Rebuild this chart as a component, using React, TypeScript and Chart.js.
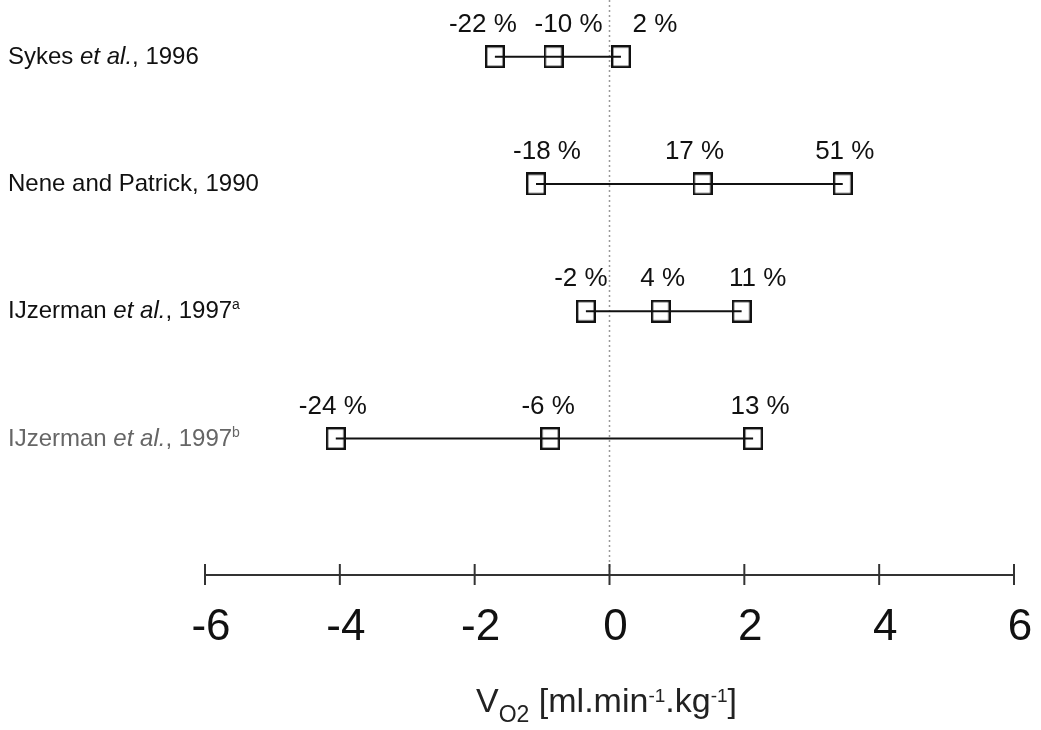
import React, { useEffect, useRef } from 'react';
import { Chart, registerables } from 'chart.js';

Chart.register(...registerables);

// ---- data ----
const studies = ['Sykes et al., 1996', 'Nene and Patrick, 1990', 'IJzerman et al., 1997', 'IJzerman et al., 1997'];
const studySuperscripts = ['', '', 'a', 'b'];
const rowPositions = [3, 2, 1, 0];

const sykesValues = [-1.70, -0.83, 0.17];
const sykesLabels = ['-22 %', '-10 %', '2 %'];
const neneValues = [-1.09, 1.38, 3.46];
const neneLabels = ['-18 %', '17 %', '51 %'];
const ijzermanAValues = [-0.35, 0.76, 1.96];
const ijzermanALabels = ['-2 %', '4 %', '11 %'];
const ijzermanBValues = [-4.06, -0.88, 2.13];
const ijzermanBLabels = ['-24 %', '-6 %', '13 %'];

const xTicks = [-6, -4, -2, 0, 2, 4, 6];

// small horizontal nudges (px) of the percentage labels, as in the original print
const labelNudge = [
  [-12, 15, 34],
  [11, -8, 2],
  [-5, 2, 16],
  [-3, -2, 7],
];

const FONT = '"Liberation Sans", Arial, Helvetica, sans-serif';

type Seg = { text: string; font: string; dy: number };

function drawRich(ctx: CanvasRenderingContext2D, segs: Seg[], x: number, y: number, align: 'left' | 'center') {
  ctx.save();
  ctx.textBaseline = 'alphabetic';
  ctx.textAlign = 'left';
  let total = 0;
  const widths = segs.map((s) => {
    ctx.font = s.font;
    const w = ctx.measureText(s.text).width;
    total += w;
    return w;
  });
  let cx = align === 'center' ? x - total / 2 : x;
  segs.forEach((s, i) => {
    ctx.font = s.font;
    ctx.fillText(s.text, cx, y + s.dy);
    cx += widths[i];
  });
  ctx.restore();
}

export default function App() {
  const ref = useRef<HTMLCanvasElement | null>(null);

  useEffect(() => {
    if (!ref.current) return;

    const box = document.createElement('canvas');
    box.width = 20;
    box.height = 23;
    const bc = box.getContext('2d')!;
    bc.strokeStyle = '#111';
    bc.lineWidth = 2.4;
    bc.strokeRect(1.2, 1.2, 17.6, 20.6);

    const series = [sykesValues, neneValues, ijzermanAValues, ijzermanBValues];
    const pctLabels = [sykesLabels, neneLabels, ijzermanALabels, ijzermanBLabels];

    const datasets = series.map((vals, i) => ({
      label: studies[i] + studySuperscripts[i],
      data: vals.map((v) => ({ x: v, y: rowPositions[i] })),
      showLine: true,
      borderColor: '#111',
      borderWidth: 2,
      pointStyle: box as any,
      pointRadius: 10,
      backgroundColor: 'rgba(0,0,0,0)',
    }));

    const decor = {
      id: 'decor',
      beforeDatasetsDraw(chart: any) {
        const ctx = chart.ctx as CanvasRenderingContext2D;
        const xs = chart.scales.x;
        const area = chart.chartArea;
        const x0 = xs.getPixelForValue(0);
        ctx.save();
        ctx.strokeStyle = '#999';
        ctx.lineWidth = 1.5;
        ctx.setLineDash([2, 3]);
        ctx.beginPath();
        ctx.moveTo(x0, 0);
        ctx.lineTo(x0, area.bottom);
        ctx.stroke();
        ctx.restore();
      },
      afterDraw(chart: any) {
        const ctx = chart.ctx as CanvasRenderingContext2D;
        const xs = chart.scales.x;
        const ys = chart.scales.y;
        const area = chart.chartArea;

        // axis ticks crossing the axis line
        ctx.save();
        ctx.strokeStyle = '#333';
        ctx.lineWidth = 2;
        xTicks.forEach((t) => {
          const px = xs.getPixelForValue(t);
          ctx.beginPath();
          ctx.moveTo(px, area.bottom - 11);
          ctx.lineTo(px, area.bottom + 10);
          ctx.stroke();
        });
        ctx.restore();

        // percentage labels
        ctx.save();
        ctx.fillStyle = '#111';
        ctx.font = `26px ${FONT}`;
        ctx.textAlign = 'center';
        ctx.textBaseline = 'middle';
        series.forEach((vals, i) => {
          const py = ys.getPixelForValue(rowPositions[i]);
          vals.forEach((v, j) => {
            ctx.fillText(pctLabels[i][j], xs.getPixelForValue(v) + labelNudge[i][j], py - 32);
          });
        });
        ctx.restore();

        // study names
        studies.forEach((name, i) => {
          const py = ys.getPixelForValue(rowPositions[i]) + 7;
          const segs: Seg[] = [];
          const idx = name.indexOf('et al.');
          const normal = `24px ${FONT}`;
          if (idx >= 0) {
            segs.push({ text: name.slice(0, idx), font: normal, dy: 0 });
            segs.push({ text: 'et al.', font: `italic 24px ${FONT}`, dy: 0 });
            segs.push({ text: name.slice(idx + 6), font: normal, dy: 0 });
          } else {
            segs.push({ text: name, font: normal, dy: 0 });
          }
          if (studySuperscripts[i]) segs.push({ text: studySuperscripts[i], font: `14px ${FONT}`, dy: -9 });
          ctx.save();
          ctx.fillStyle = i === 3 ? '#666' : '#111';
          drawRich(ctx, segs, 8, py, 'left');
          ctx.restore();
        });

        // axis title
        ctx.save();
        ctx.fillStyle = '#222';
        drawRich(
          ctx,
          [
            { text: 'V', font: `34px ${FONT}`, dy: 0 },
            { text: 'O2', font: `23px ${FONT}`, dy: 10 },
            { text: ' [ml.min', font: `34px ${FONT}`, dy: 0 },
            { text: '-1', font: `19px ${FONT}`, dy: -10 },
            { text: '.kg', font: `34px ${FONT}`, dy: 0 },
            { text: '-1', font: `19px ${FONT}`, dy: -10 },
            { text: ']', font: `34px ${FONT}`, dy: 0 },
          ],
          xs.getPixelForValue(0) - 3,
          712,
          'center'
        );
        ctx.restore();
      },
    };

    const chart = new Chart(ref.current, {
      type: 'scatter',
      data: { datasets: datasets as any },
      options: {
        animation: false,
        responsive: false,
        events: [],
        layout: { autoPadding: false, padding: { left: 205, right: 27, top: 0, bottom: 0 } },
        plugins: { legend: { display: false }, tooltip: { enabled: false } },
        scales: {
          x: {
            type: 'linear',
            min: -6,
            max: 6,
            afterFit: (scale: any) => {
              scale.height = 155;
              scale.paddingLeft = 0;
              scale.paddingRight = 0;
            },
            afterBuildTicks: (scale: any) => {
              scale.ticks = xTicks.map((v) => ({ value: v }));
            },
            ticks: {
              color: '#111',
              font: { size: 44, family: FONT },
              padding: 26,
              labelOffset: 6,
              maxRotation: 0,
              autoSkip: false,
            },
            grid: { display: true, drawOnChartArea: false, drawTicks: false },
            border: { display: true, color: '#333', width: 2 },
          },
          y: {
            type: 'linear',
            display: false,
            min: -1.072,
            max: 3.445,
          },
        },
      },
      plugins: [decor],
    });

    return () => chart.destroy();
  }, []);

  return (
    <canvas
      ref={ref}
      width={1041}
      height={730}
      style={{ position: 'fixed', left: 0, top: 0, width: 1041, height: 730, display: 'block', background: '#fff' }}
    />
  );
}
